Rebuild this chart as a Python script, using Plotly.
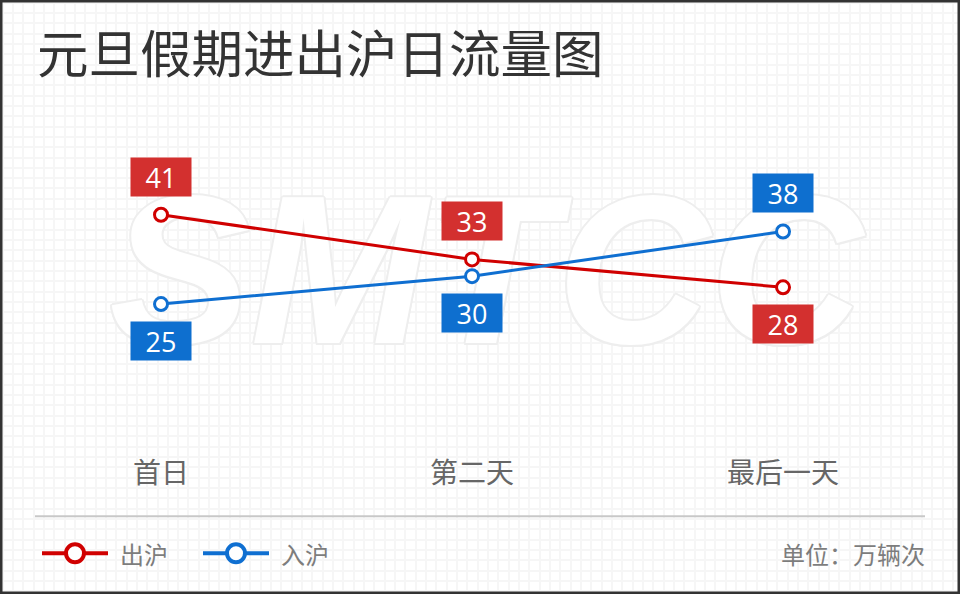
import plotly.graph_objects as go

# ---------------- data ----------------
categories = ["首日", "第二天", "最后一天"]
out_values = [41, 33, 28]
in_values = [25, 30, 38]
out_name = "出沪"
in_name = "入沪"
title_text = "元旦假期进出沪日流量图"
unit_text = "单位：万辆次"
watermark_text = "SMTCC"

# ---------------- style ----------------
W, H = 960, 594
RED_LINE = "#d00000"
RED_BOX = "#d3302f"
BLUE_LINE = "#0f6fd1"
BLUE_BOX = "#0e6fcf"
GRID = "#f6f6f6"
CJK = "Noto Sans CJK SC"
NUM = "Open Sans"
WM = "#eeeeee"

fig = go.Figure()

# faint watermark (pixel axes, drawn beneath data)
sh = ", ".join(f"{dx}px {dy}px 0 {WM}" for dx, dy in
               [(2, 0), (-2, 0), (0, 2), (0, -2), (1.5, 1.5), (-1.5, 1.5),
                (1.5, -1.5), (-1.5, -1.5)])
fig.add_trace(go.Scatter(
    x=[486], y=[290], mode="text", text=[watermark_text],
    textfont=dict(family="Liberation Sans", size=212, color="white",
                  weight="bold", style="italic", shadow=sh),
    xaxis="x", yaxis="y", hoverinfo="skip", showlegend=False, cliponaxis=False))

series = [(out_name, out_values, RED_LINE, RED_BOX),
          (in_name, in_values, BLUE_LINE, BLUE_BOX)]

for name, vals, lc, bc in series:
    fig.add_trace(go.Scatter(
        x=categories, y=vals, name=name, mode="lines+markers",
        line=dict(color=lc, width=3),
        marker=dict(size=13, color="white", line=dict(color=lc, width=3)),
        xaxis="x2", yaxis="y2", cliponaxis=False, showlegend=False,
        hoverinfo="skip"))

annotations = []
for i, cat in enumerate(categories):
    for name, vals, lc, bc in series:
        other = in_values[i] if vals is out_values else out_values[i]
        shift = 38 if vals[i] >= other else -37
        annotations.append(dict(
            x=cat, y=vals[i], xref="x2", yref="y2", text=str(vals[i]),
            showarrow=False, yshift=shift, xanchor="center", yanchor="middle",
            bgcolor=bc, width=56, height=34, borderpad=2,
            font=dict(family=NUM, size=27, color="white")))

# legend (manual) and unit
leg = [(out_name, RED_LINE, 42, 118), (in_name, BLUE_LINE, 203, 279)]
shapes = []
for name, col, x0, tx in leg:
    shapes.append(dict(type="line", xref="x", yref="y", x0=x0, x1=x0 + 66,
                       y0=553.3, y1=553.3, line=dict(color=col, width=4)))
    cx = x0 + 33
    shapes.append(dict(type="circle", xref="x", yref="y", x0=cx - 9, x1=cx + 9,
                       y0=553.3 - 9, y1=553.3 + 9, fillcolor="white",
                       line=dict(color=col, width=4)))
    annotations.append(dict(x=tx, y=553, xref="x", yref="y", text=name,
                            showarrow=False, xanchor="left", yanchor="middle",
                            font=dict(family=CJK, size=24, color="#7d7d7d")))
annotations.append(dict(x=927, y=553, xref="x", yref="y", text=unit_text,
                        showarrow=False, xanchor="right", yanchor="middle",
                        font=dict(family=CJK, size=24, color="#7d7d7d")))

# separator line and frame
shapes.append(dict(type="line", xref="x", yref="y", x0=35, x1=925, y0=516.3, y1=516.3,
                   line=dict(color="#c8c8c8", width=2)))
shapes.append(dict(type="rect", xref="x", yref="y", x0=0, x1=W, y0=0, y1=H,
                   line=dict(color="#333333", width=5), fillcolor="rgba(0,0,0,0)"))

fig.update_layout(
    width=W, height=H, margin=dict(l=0, r=0, t=0, b=0),
    paper_bgcolor="white", plot_bgcolor="white",
    title=dict(text=title_text, x=37 / W, xanchor="left", xref="paper",
               y=1 - 55 / H, yanchor="middle", yref="paper",
               font=dict(family=CJK, size=51.5, color="#333333")),
    xaxis=dict(range=[0, W], showgrid=True, gridcolor=GRID, gridwidth=1.5,
               tick0=2.5, dtick=10.333, showticklabels=False, zeroline=False,
               showline=False, ticks="", fixedrange=True),
    yaxis=dict(range=[H, 0], showgrid=True, gridcolor=GRID, gridwidth=1.5,
               tick0=2.5, dtick=10.333, showticklabels=False, zeroline=False,
               showline=False, ticks="", fixedrange=True),
    xaxis2=dict(type="category", overlaying="x", anchor="free",
                position=(H - 443.6) / H, range=[-0.5177, 2.569],
                showgrid=False, showline=False, zeroline=False, ticks="",
                tickfont=dict(family=CJK, size=28, color="#666666"),
                ticklabelstandoff=10, fixedrange=True),
    yaxis2=dict(overlaying="y", range=[-26.94, 79.47], visible=False,
                fixedrange=True),
    annotations=annotations, shapes=shapes, showlegend=False,
)

fig.write_html("out.html", config={"displayModeBar": False})
